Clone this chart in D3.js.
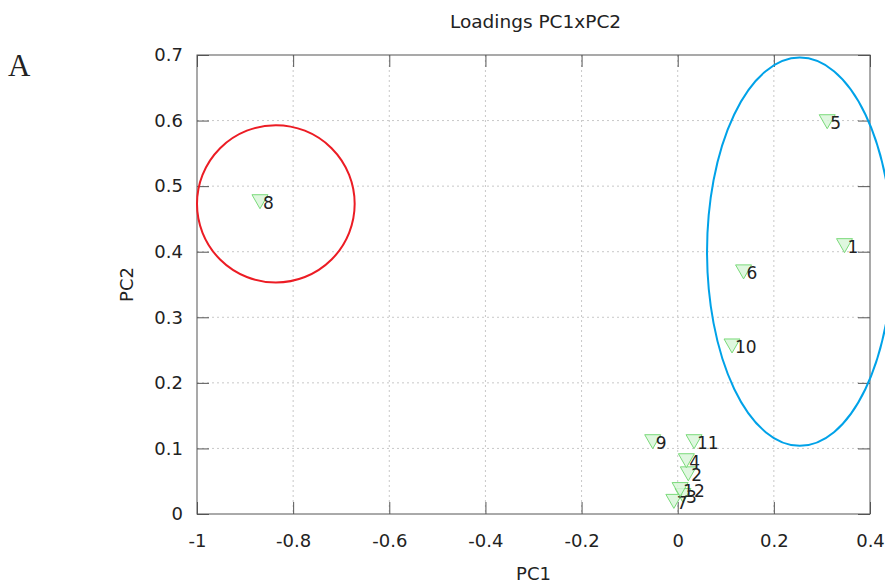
<!DOCTYPE html>
<html>
<head>
<meta charset="utf-8">
<script src="https://cdn.jsdelivr.net/npm/d3@7"></script>
<style>
  html, body { margin: 0; padding: 0; background: #fff; }
  svg { display: block; }
  text { font-family: "DejaVu Sans", Verdana, sans-serif; fill: #222; }
</style>
</head>
<body>
<svg id="chart" width="885" height="584"></svg>
<script>
// Variable loadings on the first two principal components
const labels = ["1", "2", "3", "4", "5", "6", "7", "8", "9", "10", "11", "12"];
const pc1 = [0.347, 0.022, 0.011, 0.018, 0.311, 0.137, -0.008, -0.869, -0.052, 0.113, 0.034, 0.005];
const pc2 = [0.410, 0.062, 0.029, 0.082, 0.599, 0.370, 0.020, 0.477, 0.111, 0.257, 0.111, 0.038];

const xTicks = [-1, -0.8, -0.6, -0.4, -0.2, 0, 0.2, 0.4];
const yTicks = [0, 0.1, 0.2, 0.3, 0.4, 0.5, 0.6, 0.7];

// Group outlines: [centre PC1, centre PC2, radius PC1, radius PC2]
const groupRed = [-0.836, 0.473, 0.164, 0.120];
const groupBlue = [0.254, 0.400, 0.193, 0.296];

const svg = d3.select("#chart");
const plotL = 197, plotR = 870, plotT = 55, plotB = 514;

const x = d3.scaleLinear().domain([-1, 0.4]).range([plotL, plotR]);
const y = d3.scaleLinear().domain([0, 0.7]).range([plotB, plotT]);

// Plain ASCII hyphen for negative tick values
const fmt = d => String(d);

// Dotted grid
const grid = svg.append("g");
grid.selectAll("line.vg").data(xTicks.slice(1, -1)).join("line")
  .attr("x1", d => x(d)).attr("x2", d => x(d))
  .attr("y1", plotT).attr("y2", plotB)
  .attr("stroke", "#c8c8c8").attr("stroke-width", 1).attr("stroke-dasharray", "2,3");
grid.selectAll("line.hg").data(yTicks.slice(1, -1)).join("line")
  .attr("x1", plotL).attr("x2", plotR)
  .attr("y1", d => y(d)).attr("y2", d => y(d))
  .attr("stroke", "#c8c8c8").attr("stroke-width", 1).attr("stroke-dasharray", "2,3");

// Axes with inward ticks on all four sides
const tickLen = 12;
const axisStyle = g => {
  g.select(".domain").remove();
  g.selectAll(".tick line").attr("stroke", "#555");
  g.selectAll(".tick text").style("font-size", "18px").style("font-family", "DejaVu Sans, sans-serif").attr("fill", "#222");
};
svg.append("g").attr("transform", `translate(0,${plotB})`)
  .call(d3.axisBottom(x).tickValues(xTicks).tickFormat(fmt).tickSizeInner(-tickLen).tickPadding(20))
  .call(axisStyle);
svg.append("g").attr("transform", `translate(0,${plotT})`)
  .call(d3.axisTop(x).tickValues(xTicks).tickFormat("").tickSizeInner(-tickLen))
  .call(axisStyle);
svg.append("g").attr("transform", `translate(${plotL},0)`)
  .call(d3.axisLeft(y).tickValues(yTicks).tickFormat(fmt).tickSizeInner(-tickLen).tickPadding(14))
  .call(axisStyle);
svg.append("g").attr("transform", `translate(${plotR},0)`)
  .call(d3.axisRight(y).tickValues(yTicks).tickFormat("").tickSizeInner(-tickLen))
  .call(axisStyle);

// Frame
svg.append("rect").attr("x", plotL).attr("y", plotT)
  .attr("width", plotR - plotL).attr("height", plotB - plotT)
  .attr("fill", "none").attr("stroke", "#555").attr("stroke-width", 1);

// Points: inverted triangles with labels to the right
const pts = labels.map((l, i) => ({ label: l, px: x(pc1[i]), py: y(pc2[i]) }));
const triPath = "M-8,-6.5L8,-6.5L0,7.5Z";
const pg = svg.append("g");
pts.forEach(p => {
  pg.append("path")
    .attr("d", triPath)
    .attr("transform", `translate(${p.px},${p.py})`)
    .attr("fill", "#d9f6d9").attr("fill-opacity", 0.85)
    .attr("stroke", "#7ada7a").attr("stroke-width", 1);
  pg.append("text")
    .attr("x", p.px + 3).attr("y", p.py + 2)
    .attr("dy", "0.35em")
    .style("font-size", "17px")
    .attr("fill", "#111")
    .text(p.label);
});

// Group outlines
const ell = (g, color) => svg.append("ellipse")
  .attr("cx", x(g[0])).attr("cy", y(g[1]))
  .attr("rx", x(g[0] + g[2]) - x(g[0])).attr("ry", y(g[1]) - y(g[1] + g[3]))
  .attr("fill", "none").attr("stroke", color).attr("stroke-width", 2);
ell(groupRed, "#ec1c24");
ell(groupBlue, "#00a2e8");

// Titles
svg.append("text").attr("x", (plotL + plotR) / 2 + 2).attr("y", 28)
  .attr("text-anchor", "middle").style("font-size", "18.5px").text("Loadings PC1xPC2");
svg.append("text").attr("x", (plotL + plotR) / 2).attr("y", 580)
  .attr("text-anchor", "middle").style("font-size", "18px").text("PC1");
svg.append("text").attr("transform", `translate(133,${(plotT + plotB) / 2}) rotate(-90)`)
  .attr("text-anchor", "middle").style("font-size", "18px").text("PC2");

// Panel letter
svg.append("text").attr("x", 8).attr("y", 76)
  .style("font-family", "Liberation Serif, Times New Roman, serif")
  .style("font-size", "31px").attr("fill", "#000").text("A");
</script>
</body>
</html>
